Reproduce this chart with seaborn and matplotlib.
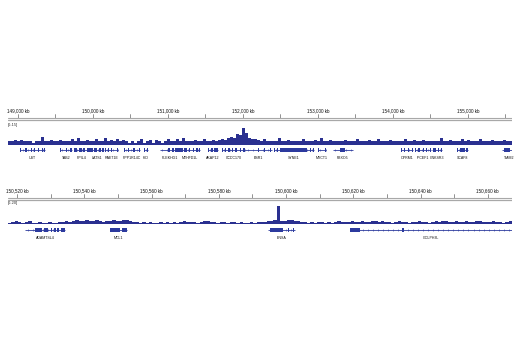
import matplotlib
matplotlib.use("Agg")
import matplotlib.pyplot as plt
from matplotlib.patches import Rectangle
import numpy as np
import pandas as pd
import seaborn as sns

# ---------------- data ----------------
# Panel 1 view (kb) and coverage (scale 0-15)
P1_VIEW = [148867, 155587]
P1_SCALE = 15
P1_LABEL_TICKS = [149000, 150000, 151000, 152000, 153000, 154000, 155000]
P1_MINOR_TICKS = [149500, 150500, 151500, 152500, 153500, 154500, 155500]
P1_COV = [3, 3, 4, 3, 4, 3, 3, 3, 2, 3, 3, 7, 3, 3, 4, 3, 3, 4, 3, 3,
          3, 5, 3, 6, 3, 3, 4, 3, 3, 5, 3, 3, 6, 3, 4, 3, 5, 3, 4, 3,
          2, 3, 2, 3, 5, 2, 3, 4, 2, 4, 3, 2, 3, 5, 3, 3, 5, 3, 6, 3,
          3, 3, 4, 3, 3, 5, 3, 3, 4, 3, 4, 5, 4, 6, 7, 6, 9, 8, 14, 10,
          6, 5, 5, 4, 3, 5, 3, 3, 3, 3, 6, 3, 3, 4, 3, 3, 3, 3, 5, 3,
          3, 3, 4, 3, 6, 3, 3, 4, 3, 3, 3, 3, 4, 3, 3, 3, 5, 3, 3, 3,
          4, 3, 3, 5, 3, 3, 3, 4, 3, 3, 3, 3, 5, 3, 3, 4, 3, 3, 4, 3,
          3, 3, 3, 3, 6, 3, 3, 4, 3, 3, 3, 5, 3, 4, 3, 3, 3, 5, 3, 3,
          3, 4, 3, 3, 3, 4, 3, 3]

P1_GENES = ['UST', 'TAB2', 'PPIL4', 'LATS1', 'RAET1E', 'PPP1R14C', 'IYD',
            'PLEKHG1', 'MTHFD1L', 'AKAP12', 'CCDC170', 'ESR1', 'SYNE1',
            'MYCT1', 'FBXO5', 'OPRM1', 'IPCEF1', 'CNKSR3', 'SCAF8', 'TIAM2']
P1_START = [149027, 149560, 149747, 149960, 150160, 150413, 150680, 150893,
            151160, 151533, 151720, 152027, 152413, 153000, 153200, 154107,
            154293, 154520, 154853, 155453]
P1_END = [149360, 149720, 149960, 150147, 150333, 150627, 150733, 151160,
          151427, 151667, 152027, 152387, 152947, 153107, 153467, 154267,
          154507, 154653, 155000, 155640]
P1_EXONS = [
    [(149027, 149040), (149100, 149115), (149170, 149185), (149210, 149225),
     (149265, 149280), (149315, 149330), (149345, 149360)],
    [(149560, 149580), (149640, 149660), (149690, 149720)],
    [(149747, 149790), (149810, 149850), (149870, 149900), (149920, 149960)],
    [(149960, 150000), (150020, 150060), (150080, 150110), (150120, 150147)],
    [(150160, 150175), (150200, 150215), (150240, 150260), (150290, 150300),
     (150320, 150333)],
    [(150413, 150430), (150470, 150485), (150540, 150555), (150610, 150627)],
    [(150680, 150700), (150715, 150733)],
    [(151000, 151030), (151050, 151080), (151100, 151160)],
    [(151165, 151200), (151215, 151260), (151280, 151300), (151330, 151350),
     (151380, 151395), (151415, 151427)],
    [(151533, 151550), (151580, 151600), (151620, 151667)],
    [(151720, 151740), (151760, 151780), (151800, 151830), (151850, 151870),
     (151900, 151915), (151960, 151975), (152000, 152027)],
    [(152090, 152100), (152200, 152210), (152280, 152290), (152360, 152375)],
    [(152413, 152425), (152450, 152465), (152500, 152860), (152890, 152905),
     (152930, 152947)],
    [(153000, 153015), (153090, 153107)],
    [(153293, 153360)],
    [(154107, 154120), (154150, 154165), (154200, 154215), (154250, 154267)],
    [(154293, 154310), (154340, 154360), (154400, 154415), (154440, 154455),
     (154490, 154507)],
    [(154530, 154570), (154600, 154620), (154640, 154653)],
    [(154853, 154870), (154890, 154960), (154980, 155000)],
    [(155480, 155560)],
]

# Panel 2 view (kb) and coverage (scale 0-20)
P2_VIEW = [150517.3, 150667.2]
P2_SCALE = 20
P2_LABEL_TICKS = [150520, 150540, 150560, 150580, 150600, 150620, 150640, 150660]
P2_MINOR_TICKS = [150530, 150550, 150570, 150590, 150610, 150630, 150650]
P2_COV = [1, 2, 3, 2, 1, 2, 3, 1, 1, 2, 1, 1, 2, 1, 1, 2, 2, 3, 2, 3, 4, 3, 3, 4, 3,
          3, 4, 3, 2, 3, 3, 4, 3, 3, 4, 4, 3, 2, 2, 1, 2, 1, 2, 1, 1, 2, 1, 2, 1, 2,
          1, 2, 3, 2, 2, 2, 1, 2, 3, 3, 2, 2, 1, 2, 2, 1, 2, 2, 1, 2, 1, 1, 2, 1, 2,
          2, 2, 3, 3, 4, 19, 3, 3, 4, 4, 3, 3, 2, 2, 1, 2, 1, 2, 2, 1, 2, 1, 2, 3, 2,
          2, 2, 3, 2, 2, 3, 2, 2, 3, 3, 2, 3, 2, 2, 1, 2, 3, 2, 2, 1, 2, 2, 3, 2, 2,
          1, 2, 3, 2, 3, 3, 2, 2, 3, 2, 2, 3, 2, 2, 3, 3, 2, 2, 2, 3, 2, 2, 1, 2, 3]

P2_GENES = ['ADAMTSL4', 'MCL1', 'ENSA', 'GOLPH3L']
P2_START = [150522.4, 150547.65, 150594.6, 150619.0]
P2_END = [150534.3, 150552.7, 150602.7, 150667.2]
P2_EXONS = [
    [(150525.4, 150527.5), (150528.0, 150529.2), (150530.0, 150530.5),
     (150531.0, 150531.5), (150532.0, 150532.5), (150533.0, 150534.3)],
    [(150547.65, 150550.6), (150551.3, 150552.7)],
    [(150595.2, 150599.1), (150600.6, 150600.9), (150602.0, 150602.3)],
    [(150619.0, 150622.0), (150634.5, 150635.1)],
]

# ---------------- style ----------------
sns.set_theme(style="white")
plt.rcParams['font.family'] = ['Liberation Sans', 'DejaVu Sans']

COV_C = '#2a3090'
GENE_C = '#2c3a9e'
RULER_C = '#a8a8a8'
TXT_C = '#111111'
W, H = 520, 350

fig = plt.figure(figsize=(W / 100, H / 100), dpi=100)
fig.patch.set_facecolor('white')


def add_ax(x0, y0, x1, y1):
    ax = fig.add_axes([x0 / W, 1 - y1 / H, (x1 - x0) / W, (y1 - y0) / H])
    ax.set_axis_off()
    return ax


def ruler(y_top, view, labels, minors):
    ax = add_ax(8, y_top, 512, y_top + 18)
    ax.set_xlim(view)
    ax.set_ylim(0, 1)
    for v in labels:
        ax.text(v, 0.62, f"{v:,} kb", ha='center', va='center',
                fontsize=3.3, color=TXT_C)
        ax.plot([v, v], [0.23, 0.45], color='#666666', lw=0.5)
    for v in minors:
        ax.plot([v, v], [0.23, 0.45], color='#666666', lw=0.5)
    ax.axhline(0.22, color=RULER_C, lw=0.8)
    ax.axhline(0.09, color=RULER_C, lw=0.9)
    ax.set_axis_off()


def coverage(y_top, y_bot, view, vals, scale, label):
    ax = add_ax(8, y_top, 512, y_bot)
    edges = np.linspace(view[0], view[1], len(vals) + 1)
    centers = (edges[:-1] + edges[1:]) / 2
    df = pd.DataFrame({'pos': centers, 'cov': vals})
    sns.histplot(data=df, x='pos', weights='cov', bins=edges.tolist(),
                 element='step', fill=True, color=COV_C, alpha=1,
                 linewidth=0, ax=ax)
    ax.set_xlim(view)
    ax.set_ylim(0, scale)
    ax.set_axis_off()
    fig.text(8 / W, 1 - (y_top - 2) / H, label, fontsize=2.9,
             color='#333333', ha='left', va='center')


def genes(y_top, view, names, starts, ends, exons, chev):
    ax = add_ax(8, y_top, 512, y_top + 16)
    ax.set_xlim(view)
    ax.set_ylim(0, 1)
    for n, s, e, ex in zip(names, starts, ends, exons):
        ax.plot([s, e], [0.75, 0.75], color=GENE_C, lw=0.6,
                solid_capstyle='butt')
        xs = np.arange(s + chev / 2, e, chev)
        ax.plot(xs, np.full_like(xs, 0.75), ls='none', marker='|',
                ms=1.6, mew=0.4, color=GENE_C)
        for a, b in ex:
            ax.add_patch(Rectangle((a, 0.61), b - a, 0.28,
                                   facecolor=GENE_C, edgecolor='none'))
        ax.text((s + e) / 2, 0.28, n, ha='center', va='center',
                fontsize=2.6, color=TXT_C)
    ax.set_axis_off()


# Panel 1
ruler(104, P1_VIEW, P1_LABEL_TICKS, P1_MINOR_TICKS)
coverage(127, 145, P1_VIEW, P1_COV, P1_SCALE, "[0-15]")
genes(146, P1_VIEW, P1_GENES, P1_START, P1_END, P1_EXONS, 67)

# Panel 2
ruler(184, P2_VIEW, P2_LABEL_TICKS, P2_MINOR_TICKS)
coverage(205, 224, P2_VIEW, P2_COV, P2_SCALE, "[0-20]")
genes(226, P2_VIEW, P2_GENES, P2_START, P2_END, P2_EXONS, 1.5)

fig.savefig("out.png", dpi=100, facecolor='white')
